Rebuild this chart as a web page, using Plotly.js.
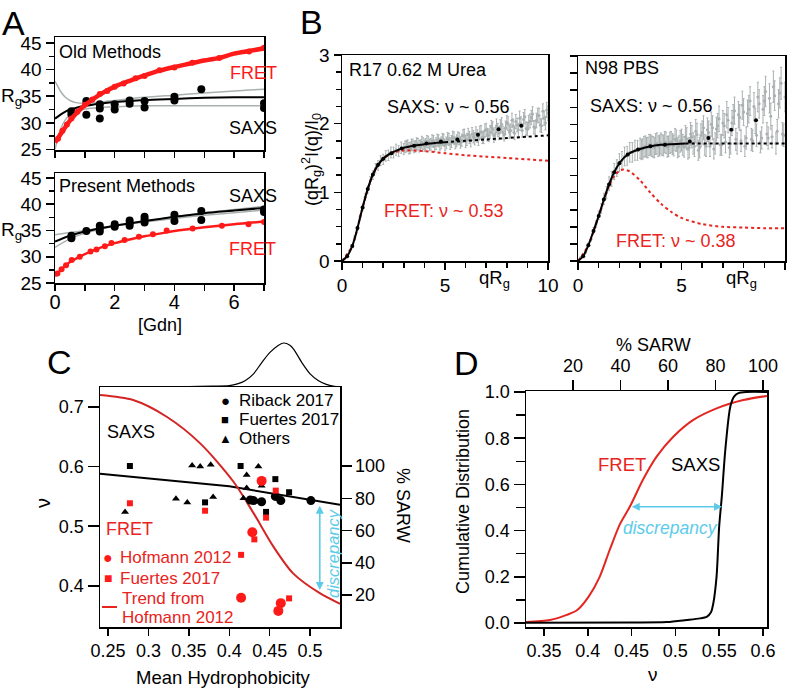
<!DOCTYPE html>
<html><head><meta charset="utf-8">
<script src="https://cdn.plot.ly/plotly-3.0.1.min.js"></script>
<style>body{margin:0;background:#fff}#chart{width:793px;height:689px}</style>
</head><body><div id="chart"></div>
<script>
// ---------- Panel A : Old methods ----------
const aOldFretX=[0.1,0.25,0.4,0.55,0.75,1.0,1.25,1.5,1.75,2.0,2.3,2.7,3.0,3.5,4.0,4.6,5.5,6.5,7.0];
const aOldFretY=[27.0,28.5,29.7,30.8,32.1,33.4,34.4,35.4,36.0,36.8,37.4,38.4,38.8,39.9,40.4,41.3,42.2,43.4,44.1];
const aOldFretFitX=[0,0.25,0.5,0.75,1,1.5,2,2.5,3,3.5,4,4.5,5,5.5,6,6.5,7];
const aOldFretFitY=[26.3,28.4,30.4,32.0,33.3,35.3,36.8,37.9,38.9,39.8,40.5,41.1,41.7,42.2,43.0,43.5,44.0];
const aOldSaxsX=[0.55,0.55,1.05,1.05,1.5,1.5,1.5,2.0,2.0,2.5,2.5,3.0,3.0,4.0,4.0,4.9,7.0,7.0];
const aOldSaxsY=[32.2,31.6,34.1,31.5,33.5,32.7,30.8,33.5,32.5,34.2,33.6,34.1,32.9,34.9,34.2,36.3,33.7,32.8];
const aOldSaxsFitX=[0,0.25,0.5,0.75,1,1.5,2,3,4,5,6,7];
const aOldSaxsFitY=[30.8,31.8,32.5,32.9,33.2,33.6,33.9,34.3,34.5,34.7,34.8,34.8];
const aOldBandX=[0,0.1,0.2,0.35,0.5,0.7,1.0,1.5,2,3,4,5,6,7];
const aOldBandHi=[37.8,36.8,35.8,34.8,34.2,33.8,33.7,33.9,34.2,34.8,35.2,35.6,36.0,36.3];
const aOldBandLo=[25.0,27.3,29.0,30.6,31.5,32.0,32.6,32.9,33.0,33.2,33.2,33.2,33.2,33.2];
// ---------- Panel A : Present methods ----------
const aNewFretX=[0.08,0.22,0.37,0.56,0.83,1.19,1.39,1.67,1.89,2.33,2.81,3.28,3.74,4.61,5.59,6.48,7.0];
const aNewFretY=[26.8,27.6,28.4,29.4,30.0,31.0,31.4,32.0,32.6,33.2,33.8,34.3,35.0,35.4,35.9,36.2,36.6];
const aNewFretFitX=[0,0.25,0.5,0.75,1,1.5,2,2.5,3,3.5,4,5,6,7];
const aNewFretFitY=[26.3,27.8,29.0,29.8,30.5,31.7,32.6,33.3,33.9,34.4,34.9,35.6,36.2,36.7];
const aNewSaxsX=[0.55,0.55,1.05,1.5,1.5,1.5,2.0,2.0,2.5,2.5,2.5,3.0,3.0,3.0,4.0,4.0,4.9,4.9,7.0,7.0];
const aNewSaxsY=[34.0,33.5,34.9,35.9,35.4,34.8,36.2,35.7,36.9,36.4,35.9,37.6,37.1,36.5,38.0,36.8,38.7,37.0,39.0,38.5];
const aNewSaxsFitX=[0,0.5,1,2,3,4,5,6,7];
const aNewSaxsFitY=[32.9,34.0,34.8,35.9,36.8,37.6,38.3,38.8,39.3];
const aNewBandX=[0,0.5,1,2,3,4,5,6,7];
const aNewBandHi=[34.2,34.6,35.0,35.9,36.8,37.6,38.4,39.0,39.6];
const aNewBandLo=[31.8,33.4,34.5,35.8,36.6,37.3,37.9,38.4,38.9];
// ---------- Panel B ----------
const bQ=[0.125,0.25,0.375,0.5,0.625,0.75,0.875,1.0,1.125,1.25,1.375,1.5,1.625,1.75,1.875,2.0,2.125,2.25,2.375,2.5,2.625,2.75,2.875,3.0,3.125,3.25,3.375,3.5,3.625,3.75,3.875,4.0,4.125,4.25,4.375,4.5,4.625,4.75,4.875,5.0,5.125,5.25,5.375,5.5,5.625,5.75,5.875,6.0,6.125,6.25,6.375,6.5,6.625,6.75,6.875,7.0,7.125,7.25,7.375,7.5,7.625,7.75,7.875,8.0,8.125,8.25,8.375,8.5,8.625,8.75,8.875,9.0,9.125,9.25,9.375,9.5,9.625,9.75,9.875,10.0];
const bLeftData=[0.03,0.06,0.15,0.21,0.35,0.47,0.64,0.77,0.93,1.04,1.17,1.25,1.35,1.39,1.46,1.48,1.53,1.54,1.58,1.58,1.62,1.60,1.65,1.63,1.67,1.64,1.69,1.66,1.71,1.67,1.73,1.68,1.74,1.69,1.75,1.68,1.76,1.70,1.77,1.69,1.78,1.71,1.80,1.72,1.79,1.73,1.82,1.74,1.84,1.75,1.81,1.86,1.77,1.88,1.80,1.91,1.83,1.95,1.82,1.97,1.86,1.99,1.84,2.02,1.88,2.05,1.86,1.98,2.08,1.90,2.10,1.92,2.04,2.14,1.94,2.12,1.98,2.18,2.01,2.15];
const bRightData=[0.05,0.08,0.13,0.24,0.32,0.45,0.54,0.67,0.77,0.91,1.00,1.13,1.20,1.31,1.36,1.44,1.47,1.53,1.54,1.59,1.59,1.62,1.62,1.65,1.64,1.68,1.66,1.70,1.67,1.71,1.68,1.72,1.69,1.73,1.68,1.74,1.69,1.76,1.68,1.77,1.67,1.79,1.66,1.82,1.68,1.85,1.66,1.88,1.70,1.92,1.68,1.95,1.72,1.98,1.70,2.02,1.74,2.06,1.72,2.10,1.78,2.14,1.76,2.18,1.80,2.22,1.78,2.26,1.84,2.30,1.80,2.34,1.86,2.38,1.82,2.42,1.90,2.46,1.86,2.40];
const bQ2=[3.0625,3.1875,3.3125,3.4375,3.5625,3.6875,3.8125,3.9375,4.0625,4.1875,4.3125,4.4375,4.5625,4.6875,4.8125,4.9375,5.0625,5.1875,5.3125,5.4375,5.5625,5.6875,5.8125,5.9375,6.0625,6.1875,6.3125,6.4375,6.5625,6.6875,6.8125,6.9375,7.0625,7.1875,7.3125,7.4375,7.5625,7.6875,7.8125,7.9375,8.0625,8.1875,8.3125,8.4375,8.5625,8.6875,8.8125,8.9375,9.0625,9.1875,9.3125,9.4375,9.5625,9.6875,9.8125,9.9375];
const bLeftData2=[1.66,1.68,1.65,1.69,1.67,1.70,1.68,1.71,1.70,1.73,1.70,1.74,1.71,1.75,1.72,1.76,1.72,1.77,1.74,1.79,1.75,1.78,1.76,1.83,1.77,1.80,1.85,1.78,1.82,1.87,1.80,1.90,1.84,1.88,1.93,1.85,1.91,1.96,1.87,1.94,2.00,1.90,1.97,2.03,1.91,2.00,2.06,1.93,2.02,2.09,1.95,2.05,2.12,1.97,2.08,2.20];
const bRightData2=[1.63,1.67,1.66,1.70,1.68,1.66,1.72,1.69,1.70,1.74,1.67,1.73,1.71,1.78,1.66,1.75,1.70,1.82,1.64,1.86,1.72,1.90,1.62,1.84,1.95,1.68,1.88,2.00,1.64,1.93,2.08,1.70,1.98,2.14,1.66,2.02,2.20,1.72,2.10,2.28,1.68,2.16,2.34,1.76,2.05,2.40,1.74,2.22,2.48,1.80,2.12,2.55,1.72,2.30,2.60,1.84];
const bLeftFitX=[0,0.25,0.5,0.75,1,1.25,1.5,1.75,2,2.25,2.5,2.75,3,3.5,4,4.5,5];
const bLeftFitY=[0,0.07,0.22,0.48,0.78,1.05,1.26,1.4,1.49,1.55,1.59,1.62,1.65,1.68,1.7,1.72,1.73];
const bLeftExtX=[5,6,7,8,9,10];
const bLeftExtY=[1.73,1.75,1.77,1.79,1.81,1.83];
const bLeftFretX=[0,0.5,1,1.5,2,2.5,3,4,5,6,7,8,9,10];
const bLeftFretY=[0,0.22,0.78,1.26,1.49,1.58,1.61,1.6,1.57,1.54,1.52,1.5,1.48,1.46];
const bLeftBinX=[0.25,0.5,0.75,1.0,1.25,1.5,1.75,2.0,2.4,2.9,3.5,4.1,4.8,5.6,6.6,7.6,8.7];
const bLeftBinY=[0.07,0.22,0.48,0.78,1.05,1.26,1.4,1.49,1.57,1.64,1.68,1.71,1.74,1.77,1.84,1.92,1.97];
const bRightFitX=[0,0.25,0.5,0.75,1,1.25,1.5,1.75,2,2.25,2.5,3,3.5,4,4.5,5.2];
const bRightFitY=[0,0.07,0.23,0.44,0.66,0.9,1.12,1.3,1.43,1.52,1.58,1.64,1.68,1.7,1.71,1.72];
const bRightExtX=[5.2,10];
const bRightExtY=[1.72,1.72];
const bRightFretX=[0,0.5,1,1.5,1.75,2,2.2,2.5,3,3.5,4,4.5,5,6,7,8,9,10];
const bRightFretY=[0,0.23,0.66,1.1,1.24,1.32,1.34,1.31,1.18,1.0,0.84,0.72,0.63,0.54,0.5,0.49,0.48,0.48];
const bRightBinX=[0.25,0.5,0.75,1,1.25,1.5,1.75,2,2.4,2.9,3.5,4.2,5.4,6.3,7.4,8.6];
const bRightBinY=[0.07,0.23,0.44,0.66,0.9,1.12,1.3,1.43,1.56,1.63,1.68,1.7,1.75,1.8,1.92,2.06];
// ---------- Panel C ----------
const cRibackX=[0.426,0.430,0.440,0.457,0.4637,0.501];
const cRibackY=[0.544,0.543,0.541,0.550,0.543,0.543];
const cFuertesBX=[0.277,0.414,0.457,0.474,0.370,0.4455];
const cFuertesBY=[0.601,0.601,0.579,0.557,0.540,0.524];
const cOthersX=[0.271,0.334,0.348,0.380,0.354,0.364,0.377,0.436,0.4215,0.440,0.4215,0.4175,0.434,0.457];
const cOthersY=[0.524,0.546,0.540,0.549,0.602,0.600,0.603,0.600,0.586,0.568,0.564,0.547,0.541,0.552];
const cHofX=[0.440,0.4285,0.4146,0.4637,0.4607];
const cHofY=[0.576,0.490,0.380,0.371,0.358];
const cFuertesRX=[0.277,0.370,0.4575,0.4455,0.431,0.4146,0.474];
const cFuertesRY=[0.5385,0.526,0.5597,0.5144,0.478,0.452,0.379];
const cTrendRedX=[0.24,0.281,0.3225,0.364,0.405,0.43,0.4546,0.479,0.512,0.537];
const cTrendRedY=[0.72,0.7116,0.6836,0.639,0.575,0.522,0.4658,0.421,0.3877,0.37];
const cTrendBlkX=[0.24,0.4,0.537];
const cTrendBlkY=[0.588,0.567,0.536];
const cDensX=[0.24,0.3,0.35,0.38,0.40,0.41,0.42,0.43,0.44,0.45,0.46,0.467,0.475,0.48,0.49,0.5,0.51,0.52,0.53,0.537];
const cDensY=[0,0.003,0.01,0.02,0.03,0.07,0.15,0.3,0.55,0.78,0.94,1.0,0.95,0.85,0.55,0.3,0.15,0.06,0.015,0];
const cArrowX=0.512, cArrowTop=0.537, cArrowBot=0.393;
// ---------- Panel D ----------
const dFretX=[0.3295,0.357,0.376,0.388,0.401,0.4136,0.425,0.437,0.448,0.463,0.4786,0.4976,0.5205,0.5471,0.5775,0.6046];
const dFretY=[0.004,0.013,0.035,0.056,0.114,0.2,0.316,0.43,0.503,0.62,0.72,0.806,0.879,0.929,0.965,0.983];
const dSaxsX=[0.3295,0.45,0.49,0.5127,0.528,0.5358,0.5405,0.5433,0.547,0.55,0.553,0.557,0.5627,0.567,0.572,0.581,0.6046];
const dSaxsY=[0.001,0.002,0.004,0.013,0.02,0.027,0.045,0.085,0.2,0.417,0.547,0.749,0.936,0.98,0.995,1.0,1.0];
const dArrowLeft=0.4485, dArrowRight=0.5533, dArrowY=0.503;

// ---------- drawing ----------
const W=793,H=689;
const FONT='Liberation Sans, Arial, Helvetica, sans-serif';
const RED='#ff1a1a', RED2='#e8241e', CYAN='#5ccbea', GRAY='#a9b0b0';
const PX=v=>v/W, PY=v=>1-v/H;

function ax(o){return Object.assign({showline:true,linecolor:'#000',linewidth:1.5,mirror:true,ticks:'outside',tickcolor:'#000',tickwidth:1.5,ticklen:7,showgrid:false,zeroline:false,fixedrange:true,tickfont:{family:FONT,size:18,color:'#000'}},o);}
function minor(d,len){return {ticks:'outside',dtick:d,tick0:0,ticklen:len,tickwidth:1.5,tickcolor:'#000',showgrid:false};}
function TF(s){return {family:FONT,size:s,color:'#000'};}

const traces=[];
function L(x,y,xa,ya,color,width,dash,shape){traces.push({x,y,xaxis:xa,yaxis:ya,type:'scatter',mode:'lines',line:{color,width,dash:dash||'solid',shape:shape||'spline',smoothing:0.8},hoverinfo:'skip'});}
function M(x,y,xa,ya,color,size,symbol){traces.push({x,y,xaxis:xa,yaxis:ya,type:'scatter',mode:'markers',marker:{color,size,symbol:symbol||'circle',line:{width:0}},hoverinfo:'skip'});}
function G(x,y,xa,ya,pct){traces.push({x,y,xaxis:xa,yaxis:ya,type:'scatter',mode:'markers',marker:{color:GRAY,size:3},error_y:{type:'percent',value:pct,color:GRAY,thickness:1,width:1},hoverinfo:'skip'});}

// A old
L(aOldBandX,aOldBandHi,'x','y',GRAY,1.5);
L(aOldBandX,aOldBandLo,'x','y',GRAY,1.5);
L(aOldSaxsFitX,aOldSaxsFitY,'x','y','#000',2);
M(aOldSaxsX,aOldSaxsY,'x','y','#000',8);
M(aOldFretX,aOldFretY,'x','y',RED,6);
L(aOldFretFitX,aOldFretFitY,'x','y',RED,4.5);
// A present
L(aNewBandX,aNewBandHi,'x2','y2',GRAY,1.5);
L(aNewBandX,aNewBandLo,'x2','y2',GRAY,1.5);
L(aNewSaxsFitX,aNewSaxsFitY,'x2','y2','#000',2);
M(aNewSaxsX,aNewSaxsY,'x2','y2','#000',8);
M(aNewFretX,aNewFretY,'x2','y2',RED,6);
L(aNewFretFitX,aNewFretFitY,'x2','y2',RED,2.5);
// B
G(bQ,bLeftData,'x3','y3',5);
G(bQ2,bLeftData2,'x3','y3',5);
G(bQ,bRightData,'x4','y4',9);
G(bQ2,bRightData2,'x4','y4',9);
L(bLeftFretX,bLeftFretY,'x3','y3',RED2,2,'dot');
L(bRightFretX,bRightFretY,'x4','y4',RED2,2,'dot');
L(bLeftFitX,bLeftFitY,'x3','y3','#000',2);
L(bLeftExtX,bLeftExtY,'x3','y3','#000',2,'dot');
L(bRightFitX,bRightFitY,'x4','y4','#000',2);
L(bRightExtX,bRightExtY,'x4','y4','#000',2,'dot');
M(bLeftBinX,bLeftBinY,'x3','y3','#000',4);
M(bRightBinX,bRightBinY,'x4','y4','#000',4);
// C
L(cDensX,cDensY,'x7','y7','#000',1.2);
L(cTrendBlkX,cTrendBlkY,'x5','y5','#000',2,'solid','linear');
L(cTrendRedX,cTrendRedY,'x5','y5','#d42424',2);
M(cOthersX,cOthersY,'x5','y5','#000',7,'triangle-up');
M(cFuertesBX,cFuertesBY,'x5','y5','#000',6,'square');
M(cRibackX,cRibackY,'x5','y5','#000',9);
M(cFuertesRX,cFuertesRY,'x5','y5',RED,6,'square');
M(cHofX,cHofY,'x5','y5',RED,10);
// D
L(dFretX,dFretY,'x8','y8','#e3261f',2);
L(dSaxsX,dSaxsY,'x8','y8','#000',2);
traces.push({x:[],y:[],xaxis:'x9',yaxis:'y8',type:'scatter',mode:'markers',hoverinfo:'skip'});
traces.push({x:[],y:[],xaxis:'x5',yaxis:'y6',type:'scatter',mode:'markers',hoverinfo:'skip'});

function T(text,x,y,size,color,o){return Object.assign({text,xref:'paper',yref:'paper',x:PX(x),y:PY(y),showarrow:false,xanchor:'center',yanchor:'middle',font:{family:FONT,size:size||18,color:color||'#000'}},o||{});}
const ann=[
 T('A',13,23,34),T('B',311,22,34),T('C',59,362,34),T('D',467,363,34),
 T('R<sub>g</sub>',11,97,19),T('R<sub>g</sub>',11,231,19),
 T('Old Methods',57,52,18,'#000',{xanchor:'left'}),
 T('FRET',228,73,18,RED,{xanchor:'left'}),
 T('SAXS',227,128,18,'#000',{xanchor:'left'}),
 T('Present Methods',57,186,18,'#000',{xanchor:'left'}),
 T('SAXS',227,196,18,'#000',{xanchor:'left'}),
 T('FRET',227,249,18,RED,{xanchor:'left'}),
 T('[Gdn]',160,325,18),
 T('(qR<sub>g</sub>)<sup>2</sup>I(q)/I<sub>0</sub>',311,160,18,'#000',{textangle:-90}),
 T('R17 0.62 M Urea',347,70,18,'#000',{xanchor:'left'}),
 T('SAXS: ν ~ 0.56',448,107,18),
 T('FRET: ν ~ 0.53',444,211,18,RED2),
 T('N98 PBS',583,68,18,'#000',{xanchor:'left'}),
 T('SAXS: ν ~ 0.56',651,106,18),
 T('FRET: ν ~ 0.38',676,241,18,RED2),
 T('qR<sub>g</sub>',495,279,18.5),T('qR<sub>g</sub>',741,279,18.5),
 T('●',225,400,15),T('Riback 2017',237,400,17,'#000',{xanchor:'left'}),
 T('■',225,419,13),T('Fuertes 2017',237,419,17,'#000',{xanchor:'left'}),
 T('▲',225,438,13),T('Others',237,438,17,'#000',{xanchor:'left'}),
 T('SAXS',105,432,18,'#000',{xanchor:'left'}),
 T('FRET',104,529,18,RED2,{xanchor:'left'}),
 T('●',108,557,16,RED),T('Hofmann 2012',118,557,17,RED2,{xanchor:'left'}),
 T('■',108,578,14,RED),T('Fuertes 2017',118,578,17,RED2,{xanchor:'left'}),
 T('Trend from',120,598,17,RED2,{xanchor:'left'}),
 T('Hofmann 2012',120,617,17,RED2,{xanchor:'left'}),
 T('ν',43,503,20,'#000',{textangle:-90}),
 T('% SARW',403,505,18,'#000',{textangle:90}),
 T('Mean Hydrophobicity',223,677,18.5),
 T('<i>discrepancy</i>',333,553,16.5,CYAN,{textangle:-90}),
 T('Cumulative Distribution',463,502,18,'#000',{textangle:-90}),
 T('% SARW',653,345,18),
 T('ν',653,674,19),
 T('FRET',622,465,18.5,RED2),
 T('SAXS',695,465,18.5),
 T('<i>discrepancy</i>',670,528,17.5,CYAN),
 {xref:'x5',yref:'y5',x:cArrowX,y:cArrowBot,ax:cArrowX,ay:cArrowTop,axref:'x5',ayref:'y5',text:'',showarrow:true,arrowhead:2,arrowside:'end+start',arrowsize:1,arrowwidth:1.6,arrowcolor:CYAN},
 {xref:'x8',yref:'y8',x:dArrowRight,y:dArrowY,ax:dArrowLeft,ay:dArrowY,axref:'x8',ayref:'y8',text:'',showarrow:true,arrowhead:2,arrowside:'end+start',arrowsize:1,arrowwidth:1.6,arrowcolor:CYAN}
];

const layout={
 width:W,height:H,margin:{l:0,r:0,t:0,b:0},paper_bgcolor:'#fff',plot_bgcolor:'rgba(0,0,0,0)',showlegend:false,
 font:{family:FONT,color:'#000'},
 xaxis:ax({domain:[PX(55),PX(264)],anchor:'y',range:[0,7],tickvals:[0,1,2,3,4,5,6,7],showticklabels:false,ticklen:6}),
 yaxis:ax({domain:[PY(150),PY(37)],anchor:'x',range:[24.9,46.13],tickvals:[25,30,35,40,45],ticklen:8,tickfont:TF(19),minor:minor(2.5,5)}),
 xaxis2:ax({domain:[PX(55),PX(264)],anchor:'y2',range:[0,7],tickvals:[0,1,2,3,4,5,6,7],ticktext:['0','','2','','4','','6',''],ticklen:6,tickfont:TF(20),ticklabelstandoff:-6}),
 yaxis2:ax({domain:[PY(283),PY(173)],anchor:'x2',range:[25,45.95],tickvals:[25,30,35,40,45],ticklen:8,tickfont:TF(19),minor:minor(2.5,5)}),
 xaxis3:ax({domain:[PX(342),PX(548)],anchor:'y3',range:[0,10],tickvals:[0,5,10],ticklen:7,tickfont:TF(19),minor:minor(1,5)}),
 yaxis3:ax({domain:[PY(261),PY(55)],anchor:'x3',range:[0,3],tickvals:[0,1,2,3],ticklen:7,tickfont:TF(19),minor:minor(0.25,5)}),
 xaxis4:ax({domain:[PX(578),PX(785)],anchor:'y4',range:[0,10],tickvals:[0,5,10],ticklen:7,tickfont:TF(19),minor:minor(1,5)}),
 yaxis4:ax({domain:[PY(261),PY(56)],anchor:'x4',range:[0,3],tickvals:[0,1,2,3],showticklabels:false,ticklen:7,minor:minor(0.25,7)}),
 xaxis5:ax({domain:[PX(100),PX(340)],anchor:'y5',range:[0.24,0.537],tickvals:[0.25,0.3,0.35,0.4,0.45,0.5],ticktext:['0.25','0.3','0.35','0.4','0.45','0.5'],ticklen:7}),
 yaxis5:ax({domain:[PY(627),PY(387)],anchor:'x5',range:[0.331,0.7335],tickvals:[0.4,0.5,0.6,0.7],ticklen:11}),
 yaxis6:ax({overlaying:'y5',anchor:'x5',side:'right',mirror:false,range:[0.16,149],tickvals:[20,40,60,80,100],ticklen:10}),
 xaxis7:{domain:[PX(100),PX(340)],anchor:'y7',range:[0.24,0.537],visible:false,fixedrange:true},
 yaxis7:{domain:[PY(387),PY(340)],anchor:'x7',range:[0,1.068],visible:false,fixedrange:true},
 xaxis8:ax({domain:[PX(526),PX(767)],anchor:'y8',range:[0.3295,0.6046],tickvals:[0.35,0.4,0.45,0.5,0.55,0.6],ticktext:['0.35','0.4','0.45','0.5','0.55','0.6'],ticklen:7}),
 yaxis8:ax({domain:[PY(627),PY(391)],anchor:'x8',range:[-0.0173,1.0043],tickvals:[0,0.2,0.4,0.6,0.8,1.0],ticktext:['0.0','0.2','0.4','0.6','0.8','1.0'],ticklen:11,minor:minor(0.1,9)}),
 xaxis9:ax({overlaying:'x8',anchor:'y8',side:'top',mirror:false,range:[0.2,101.7],tickvals:[20,40,60,80,100],ticklen:10}),
 shapes:[{type:'line',xref:'paper',yref:'paper',x0:PX(102),x1:PX(117),y0:PY(607),y1:PY(607),line:{color:RED2,width:2}}],
 annotations:ann
};
Plotly.newPlot('chart',traces,layout,{staticPlot:true});
</script></body></html>
